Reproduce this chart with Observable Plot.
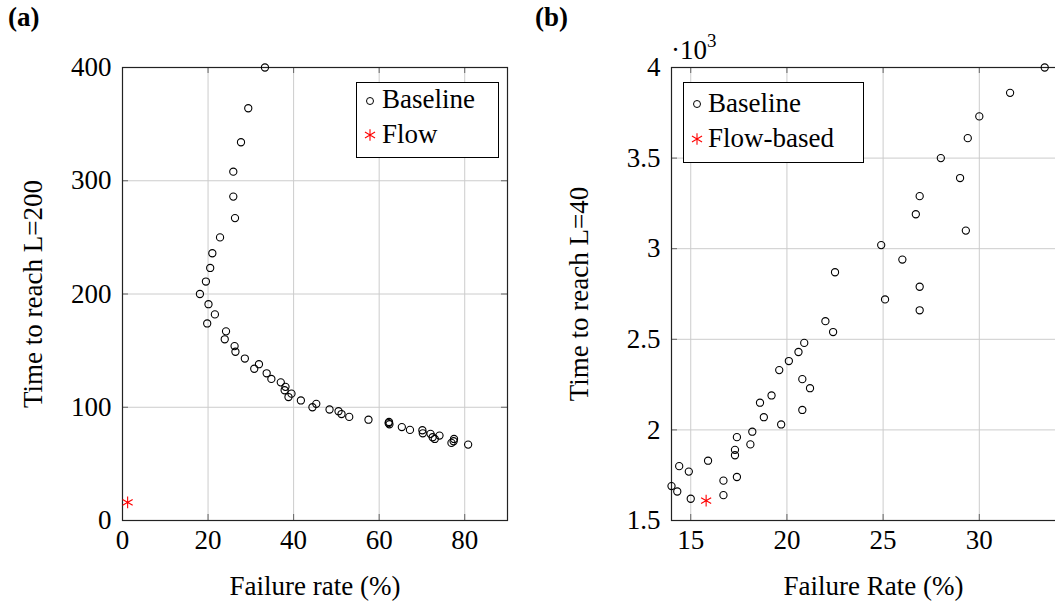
<!DOCTYPE html>
<html><head><meta charset="utf-8">
<script src="https://cdn.jsdelivr.net/npm/d3@7"></script>
<script src="https://cdn.jsdelivr.net/npm/@observablehq/plot@0.6"></script>
<style>
html,body{margin:0;padding:0;background:#fff;overflow:hidden;}
#root{position:relative;width:1055px;height:602px;overflow:hidden;font-family:"Liberation Serif",serif;}
.panel{position:absolute;top:0;overflow:visible;}
.panel, .panel text{font-family:"Liberation Serif",serif !important;font-size:27px !important;}
#overlay{position:absolute;left:0;top:0;pointer-events:none;}
</style></head><body><div id="root"></div>
<script>
// ---------- Panel (a) data ----------
const aBaselineRate = [33.3,29.4,27.7,25.9,25.9,26.3,22.8,21.0,20.5,19.5,18.1,20.1,21.6,19.8,24.2,23.9,26.2,26.4,28.6,31.9,30.8,33.7,34.8,37.0,38.1,37.9,39.5,38.8,41.7,45.3,44.4,48.4,50.5,51.2,53.0,57.5,62.3,62.2,62.4,65.3,67.2,70.1,70.2,72.0,72.5,73.0,74.1,77.5,77.4,76.9,80.8];
const aBaselineTime = [400,364,334,308,286,267,250,236,223,211,200,191,182,174,167,160,154,149,143,138,134,130,125,122,118,115,112,109,106,103,100,98,96.5,94,91.5,89,87,86,85,82.5,80,79.7,77,76.5,73.5,72,75,72,70,68.5,67];
const aFlowRate = [1.2];
const aFlowTime = [16];
const aXTicks = [0,20,40,60,80];
const aYTicks = [0,100,200,300,400];

// ---------- Panel (b) data ----------
const bBaselineRate = [33.4,31.6,30.0,29.4,28.0,29.0,26.9,26.7,29.3,24.9,26.0,22.5,26.9,25.1,26.9,22.0,22.4,20.9,20.6,20.1,19.6,20.8,21.2,19.2,18.6,20.8,18.8,19.7,18.2,17.4,18.1,17.3,17.3,15.9,14.4,14.9,17.4,16.7,14.0,14.3,16.7,15.0];
const bBaselineTime = [4000,3860,3730,3610,3500,3390,3290,3190,3100,3020,2940,2870,2790,2720,2660,2600,2540,2480,2430,2380,2330,2280,2230,2190,2150,2110,2070,2030,1990,1960,1920,1890,1860,1830,1800,1770,1740,1720,1690,1660,1640,1620];
const bFlowRate = [15.8];
const bFlowTime = [1610];
const bXTicks = [15,20,25,30];
const bYTicks = [1500,2000,2500,3000,3500,4000];

const FONT = "Liberation Serif";
const FS = 27;

function toRows(xs, ys){ return xs.map((x,i)=>({rate:x, time:ys[i]})); }

function panel({left, width, height, mL, mR, mT, mB, xDomain, yDomain, xTicks, yTicks, base, flow, xLabel, yLabel, yFmt, yLabelOffset}){
  const W = width - mL - mR, H = height - mT - mB;
  const gridColor = "#cccccc";
  const tickColor = "#666666";
  const txt = {fontFamily: FONT, fontSize: FS};
  const svg = Plot.plot({
    width, height,
    marginLeft: mL, marginRight: mR, marginTop: mT, marginBottom: mB,
    x: {domain: xDomain},
    y: {domain: yDomain},
    marks: [
      Plot.gridX(xTicks, {stroke: gridColor, strokeOpacity: 1, strokeWidth: 1}),
      Plot.gridY(yTicks, {stroke: gridColor, strokeOpacity: 1, strokeWidth: 1}),
      Plot.tickX(xTicks, {x: d => d, stroke: tickColor, insetTop: H - 6}),
      Plot.tickX(xTicks, {x: d => d, stroke: tickColor, insetBottom: H - 6}),
      Plot.tickY(yTicks, {y: d => d, stroke: tickColor, insetRight: W - 6}),
      Plot.tickY(yTicks, {y: d => d, stroke: tickColor, insetLeft: W - 6}),
      Plot.frame({stroke: "#222", strokeWidth: 1.2}),
      Plot.axisX(xTicks, {anchor: "bottom", tickSize: 0, tickPadding: 9, label: xLabel, labelAnchor: "center", labelOffset: 74, labelArrow: "none", ...txt}),
      Plot.axisY(yTicks, {anchor: "left", tickSize: 0, tickPadding: 11, tickFormat: yFmt, label: yLabel, labelAnchor: "center", labelOffset: yLabelOffset, labelArrow: "none", ...txt}),
      Plot.dot(base, {x: "rate", y: "time", r: 3.6, stroke: "#000", fill: "none", strokeWidth: 1.1}),
      Plot.dot(flow, {x: "rate", y: "time", symbol: "asterisk", r: 5.5, stroke: "#ff0000", strokeWidth: 1.1})
    ]
  });
  svg.classList.add("panel");
  svg.style.left = left + "px";
  svg.style.background = "transparent";
  return svg;
}

const root = document.getElementById("root");

root.appendChild(panel({
  left: 0, width: 530, height: 602, mL: 122, mR: 23, mT: 67, mB: 82,
  xDomain: [0, 90], yDomain: [0, 400], xTicks: aXTicks, yTicks: aYTicks,
  base: toRows(aBaselineRate, aBaselineTime), flow: toRows(aFlowRate, aFlowTime),
  xLabel: "Failure rate (%)", yLabel: "Time to reach L=200", yFmt: d => String(d), yLabelOffset: 100
}));

root.appendChild(panel({
  left: 530, width: 560, height: 602, mL: 141, mR: 15, mT: 67, mB: 82,
  xDomain: [14, 35], yDomain: [1500, 4000], xTicks: bXTicks, yTicks: bYTicks,
  base: toRows(bBaselineRate, bBaselineTime), flow: toRows(bFlowRate, bFlowTime),
  xLabel: "Failure Rate (%)", yLabel: "Time to reach L=40", yFmt: d => String(d / 1000), yLabelOffset: 103
}));

// ---------- overlay: panel tags, legends, exponent ----------
const ov = d3.select(root).append("svg").attr("id", "overlay").attr("width", 1055).attr("height", 602)
  .style("font-family", "'Liberation Serif', serif").style("font-size", FS + "px");

ov.append("text").attr("x", 8).attr("y", 26).attr("font-weight", "bold").text("(a)");
ov.append("text").attr("x", 535).attr("y", 26).attr("font-weight", "bold").text("(b)");

const expo = ov.append("text").attr("x", 671).attr("y", 59);
expo.append("tspan").text("·10");
expo.append("tspan").attr("font-size", 19).attr("dy", -12).text("3");

const star = d3.symbol(d3.symbolAsterisk, Math.PI * 5.5 * 5.5)();
function legend(x, y, w, h, mx, rows){
  const g = ov.append("g");
  g.append("rect").attr("x", x + 0.5).attr("y", y + 0.5).attr("width", w).attr("height", h)
    .attr("fill", "#fff").attr("stroke", "#000").attr("stroke-width", 1);
  rows.forEach(r => {
    if (r.kind === "circle") {
      g.append("circle").attr("cx", mx).attr("cy", r.my).attr("r", 3.5).attr("fill", "none").attr("stroke", "#000");
    } else {
      g.append("path").attr("d", star).attr("transform", `translate(${mx},${r.my})`).attr("fill", "none").attr("stroke", "#ff0000").attr("stroke-width", 1.1);
    }
    g.append("text").attr("x", r.tx).attr("y", r.ty).text(r.label);
  });
}
legend(356, 82, 142, 75, 370, [
  {kind: "circle", my: 101, tx: 382, ty: 108, label: "Baseline"},
  {kind: "star", my: 135, tx: 382, ty: 143, label: "Flow"}
]);
legend(683, 82, 180, 80, 697, [
  {kind: "circle", my: 104, tx: 708, ty: 112, label: "Baseline"},
  {kind: "star", my: 139, tx: 708, ty: 147, label: "Flow-based"}
]);
</script></body></html>
